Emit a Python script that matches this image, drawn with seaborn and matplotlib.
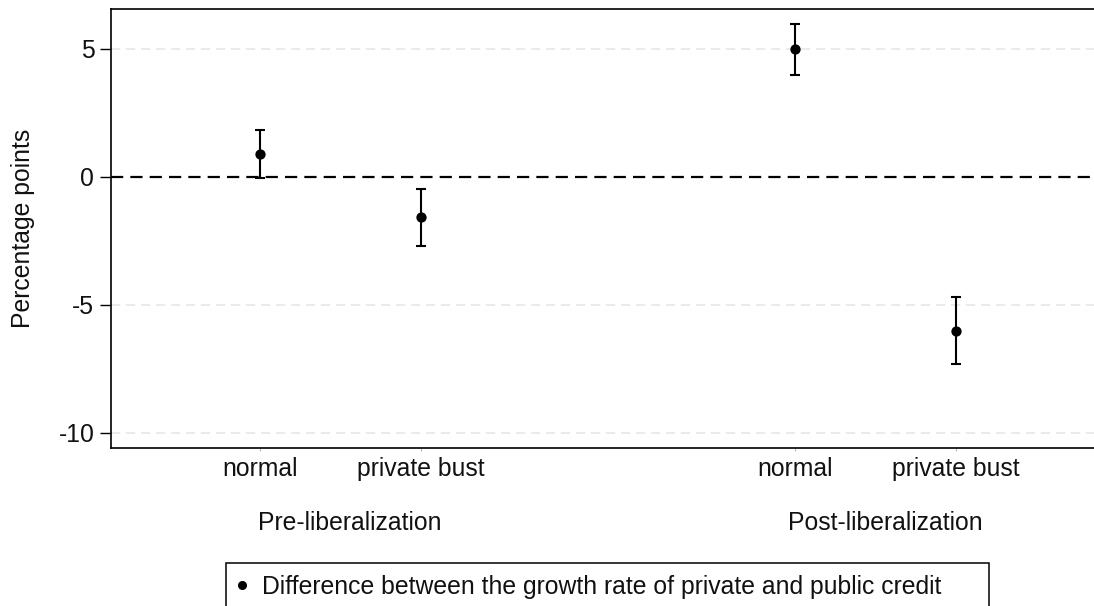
import matplotlib
matplotlib.use("Agg")
import matplotlib.pyplot as plt
import matplotlib.transforms as mtransforms
from matplotlib.lines import Line2D
from matplotlib.patches import Rectangle
import seaborn as sns
import pandas as pd

# Estimates with 95% confidence intervals (percentage points)
periods = ["Pre-liberalization", "Pre-liberalization", "Post-liberalization", "Post-liberalization"]
regimes = ["normal", "private bust", "normal", "private bust"]
estimate = [0.90, -1.56, 4.99, -6.02]
ci_low = [-0.04, -2.70, 3.97, -7.30]
ci_high = [1.82, -0.46, 5.98, -4.70]
yticks = [-10, -5, 0, 5]
legend_label = "Difference between the growth rate of private and public credit"
ylabel = "Percentage points"

# horizontal placement of the four estimates (two per period, gap between periods)
xpos = [1.0, 2.0, 4.323, 5.323]

df = pd.DataFrame({"period": periods, "regime": regimes, "x": xpos,
                   "est": estimate, "lo": ci_low, "hi": ci_high})

sns.set_theme(style="white")
plt.rcParams["font.family"] = ["Liberation Sans", "DejaVu Sans"]
FS = 17.8

fig = plt.figure(figsize=(10.94, 6.06), dpi=100)
ax = fig.add_axes([111 / 1094, 1 - 447.5 / 606, 1 - 111 / 1094, (447.5 - 8.5) / 606])

# reference grid and zero line
for y in yticks:
    if y == 0:
        ax.axhline(0, color="black", lw=1.6, ls=(0, (5.5, 3.2)), zorder=1)
    else:
        ax.axhline(y, color="#e8e8e8", lw=1.2, ls=(0, (5.5, 3.5)), zorder=0)

# confidence intervals
ax.errorbar(df["x"], df["est"],
            yerr=[df["est"] - df["lo"], df["hi"] - df["est"]],
            fmt="none", ecolor="black", elinewidth=1.5, capsize=3.3,
            capthick=1.5, zorder=2)
# point estimates
sns.scatterplot(data=df, x="x", y="est", ax=ax, color="black", s=55,
                edgecolor="black", linewidth=0, zorder=3, legend=False)

ax.set_xlim(0.0745, 6.18)
ax.set_ylim(-10.57, 6.58)
ax.set_yticks(yticks)
ax.set_yticklabels([str(v) for v in yticks], fontsize=FS, color="#111111")
ax.set_xticks(xpos)
ax.set_xticklabels(regimes, fontsize=FS, color="#111111")
ax.tick_params(axis="y", direction="out", length=8, width=1, color="black",
               pad=4, left=True)
ax.tick_params(axis="x", direction="out", length=2, width=0.8, color="#bbbbbb",
               pad=5, bottom=True)
ax.set_xlabel("")
ax.set_ylabel(ylabel, fontsize=FS, color="#111111")
ax.yaxis.set_label_coords(-0.0773, 0.5)

for side in ["left", "top", "bottom"]:
    ax.spines[side].set_visible(True)
    ax.spines[side].set_color("black")
    ax.spines[side].set_linewidth(1.2)
ax.spines["right"].set_visible(False)

# period labels under each pair of estimates
trans = mtransforms.blended_transform_factory(ax.transData, ax.transAxes)
for name in dict.fromkeys(periods):
    sub = df[df["period"] == name]
    ax.text(sub["x"].mean() + 0.06, -0.171, name, transform=trans,
            ha="center", va="center", fontsize=FS, color="#111111")

# legend
handle = Line2D([], [], marker="o", color="black", ls="none", markersize=5.5)
fig.legend([handle], [legend_label], loc="center left",
           bbox_to_anchor=(232 / 1094, 1 - 587 / 606), frameon=False,
           fontsize=FS, handlelength=0.8, handletextpad=0.4, borderpad=0,
           borderaxespad=0, labelcolor="#111111")
fig.patches.append(Rectangle((226 / 1094, -0.05), 763 / 1094, 0.05 + 1 - 563 / 606,
                             transform=fig.transFigure, fill=False,
                             edgecolor="black", linewidth=1.1, clip_on=False))

fig.savefig("out.png", dpi=100, facecolor="white")
